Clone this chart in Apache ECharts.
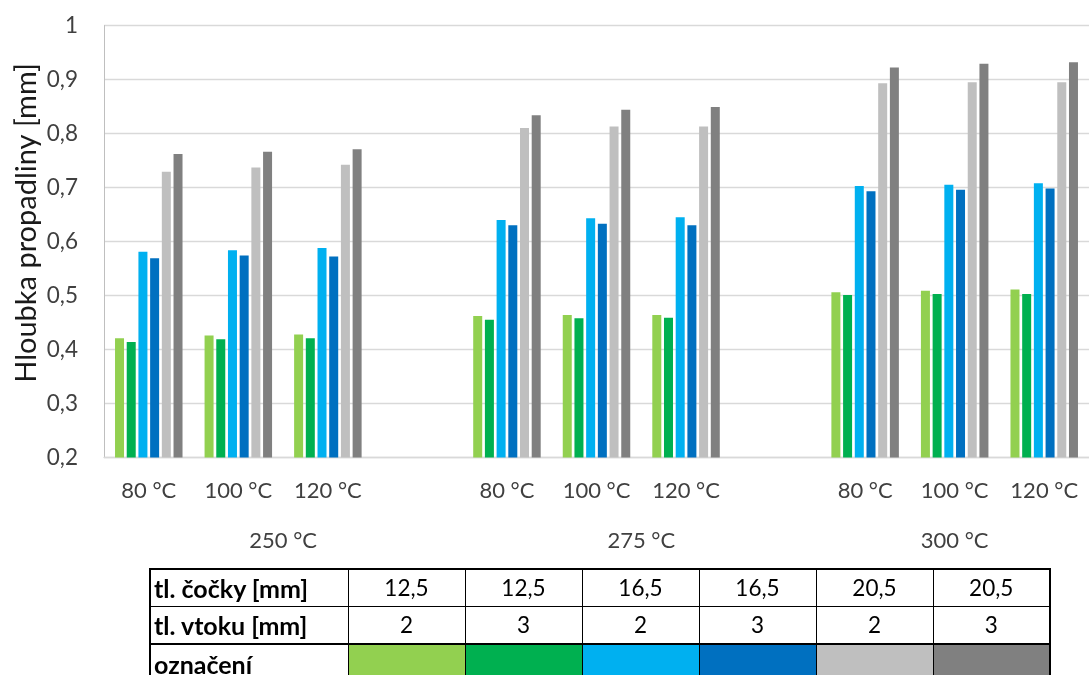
<!DOCTYPE html>
<html>
<head>
<meta charset="utf-8">
<script src="https://cdn.jsdelivr.net/npm/echarts@6/dist/echarts.min.js"></script>
<style>
    html, body { margin: 0; padding: 0; background: #fff; }
    #wrap { position: relative; width: 1089px; height: 675px; overflow: hidden; }
    #main { position: absolute; left: 0; top: 0; width: 1089px; height: 675px; }
    #legendTable {
        position: absolute; left: 149px; top: 568px; width: 900px;
        table-layout: fixed;
        border-collapse: collapse; border: 2px solid #000;
        font-family: Lato, "Open Sans", sans-serif; font-size: 22.5px; color: #000;
        line-height: 1;
    }
    #legendTable td { border: 1px solid #000; height: 36px; padding: 0 4px; text-align: center; }
    #legendTable td.head { text-align: left; font-weight: bold; font-size: 25px; padding-left: 3px; }
    #legendTable tr.colors td { border-top: 2px solid #000; height: 38px; }
</style>
</head>
<body>
<div id="wrap">
    <div id="main"></div>
    <table id="legendTable">
        <colgroup>
            <col style="width:198px"><col style="width:117px"><col style="width:117px">
            <col style="width:117px"><col style="width:117px"><col style="width:117px"><col style="width:117px">
        </colgroup>
        <tbody id="legendBody"></tbody>
    </table>
</div>
<script>
// categories (blank slots separate the mould temperature groups)
var categories = ["80 °C", "100 °C", "120 °C", "", "80 °C", "100 °C", "120 °C", "", "80 °C", "100 °C", "120 °C"];
var groupNames = ["250 °C", "275 °C", "300 °C"];
var groupSpans = [[0, 3], [4, 7], [8, 10]];

// table rows
var lensThickness = ["12,5", "12,5", "16,5", "16,5", "20,5", "20,5"];
var gateThickness = ["2", "3", "2", "3", "2", "3"];

// series values (depth in mm)
var s125_2 = [0.421, 0.426, 0.428, "-", 0.462, 0.464, 0.464, "-", 0.506, 0.509, 0.511];
var s125_3 = [0.414, 0.419, 0.421, "-", 0.455, 0.458, 0.459, "-", 0.501, 0.503, 0.503];
var s165_2 = [0.581, 0.584, 0.588, "-", 0.640, 0.643, 0.645, "-", 0.703, 0.705, 0.708];
var s165_3 = [0.569, 0.574, 0.572, "-", 0.630, 0.633, 0.630, "-", 0.693, 0.696, 0.698];
var s205_2 = [0.729, 0.737, 0.742, "-", 0.810, 0.813, 0.813, "-", 0.893, 0.895, 0.895];
var s205_3 = [0.762, 0.766, 0.771, "-", 0.834, 0.844, 0.849, "-", 0.922, 0.929, 0.932];

var yTicks = { min: 0.2, max: 1, interval: 0.1 };

var colors = ["#92d050", "#00b050", "#00b0f0", "#0070c0", "#bfbfbf", "#808080"];
var allSeries = [s125_2, s125_3, s165_2, s165_3, s205_2, s205_3];
var font = 'Lato, "Open Sans", sans-serif';

var myChart = echarts.init(document.getElementById("main"));

var series = allSeries.map(function (vals, i) {
    return {
        name: lensThickness[i] + " / " + gateThickness[i],
        type: "bar",
        data: vals,
        barWidth: 9,
        barGap: "30%",
        itemStyle: { color: colors[i] },
        emphasis: { disabled: true }
    };
});

var option = {
    animation: false,
    textStyle: { fontFamily: font },
    grid: { left: 104, top: 25.5, width: 998, height: 432, containLabel: false },
    xAxis: {
        type: "category",
        data: categories,
        axisLine: { show: true, lineStyle: { color: "#d9d9d9", width: 1.3 } },
        axisTick: { show: false },
        axisLabel: { interval: 0, margin: 22, fontSize: 22, color: "#404040", fontFamily: font }
    },
    yAxis: {
        type: "value",
        min: yTicks.min,
        max: yTicks.max,
        interval: yTicks.interval,
        axisLine: { show: true, lineStyle: { color: "#bfbfbf", width: 1 } },
        axisTick: { show: false },
        splitLine: { lineStyle: { color: "#d9d9d9", width: 1.3 } },
        axisLabel: {
            margin: 26, fontSize: 22.5, color: "#404040", fontFamily: font,
            formatter: function (v) { return String(Math.round(v * 10) / 10).replace(".", ","); }
        }
    },
    series: series
};
myChart.setOption(option);

// group labels and axis title
var texts = groupNames.map(function (g, i) {
    var a = myChart.convertToPixel({ xAxisIndex: 0 }, groupSpans[i][0]);
    var b = myChart.convertToPixel({ xAxisIndex: 0 }, groupSpans[i][1]);
    return {
        type: "text", x: (a + b) / 2, y: 541,
        style: { text: g, fontSize: 22, fill: "#404040", fontFamily: font, align: "center", verticalAlign: "middle" }
    };
});
texts.push({
    type: "text", x: 27, y: 223, rotation: Math.PI / 2,
    style: { text: "Hloubka propadliny [mm]", fontSize: 29, fill: "#1a1a1a", fontFamily: font, align: "center", verticalAlign: "middle" }
});
myChart.setOption({ graphic: texts });

// legend table
function buildTable() {
    var t = document.getElementById("legendBody");
    var html = "<tr><td class='head'>tl. čočky [mm]</td>";
    lensThickness.forEach(function (v) { html += "<td>" + v + "</td>"; });
    html += "</tr><tr><td class='head'>tl. vtoku [mm]</td>";
    gateThickness.forEach(function (v) { html += "<td>" + v + "</td>"; });
    html += "</tr><tr class='colors'><td class='head'>označení</td>";
    colors.forEach(function (c) { html += "<td style='background:" + c + "'></td>"; });
    html += "</tr>";
    t.innerHTML = html;
}
buildTable();
</script>
</body>
</html>
